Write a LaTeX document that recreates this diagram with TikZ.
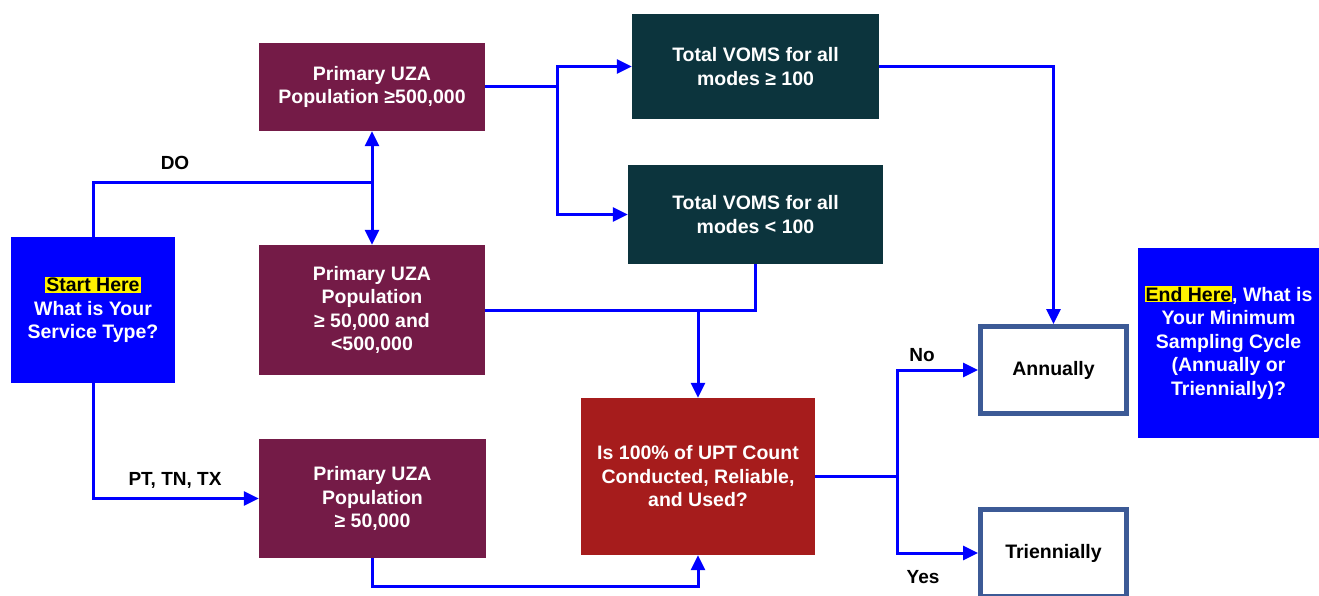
\documentclass[tikz,border=0pt]{standalone}
\usepackage{fontspec}
\setmainfont{Liberation Sans}
\usetikzlibrary{arrows.meta}
\definecolor{maroon}{HTML}{741B47}
\definecolor{teal}{HTML}{0C343D}
\definecolor{qred}{HTML}{A61C1C}
\definecolor{pureblue}{HTML}{0000FF}
\definecolor{outl}{HTML}{3C5A96}
\setlength{\fboxsep}{1pt}
\newcommand{\hl}[1]{\colorbox{yellow}{\color{black}#1}}
\tikzset{
  box/.style={rectangle, align=center, text=white, inner sep=2pt,
    font=\fontsize{19.5}{23.5}\selectfont\bfseries},
  endbox/.style={rectangle, draw=outl, line width=5pt, fill=white, align=center,
    font=\fontsize{19.5}{23.5}\selectfont\bfseries, minimum width=146pt, minimum height=87pt},
  lbl/.style={font=\fontsize{19}{22}\selectfont\bfseries, inner sep=0pt},
  line/.style={draw=pureblue, line width=3pt},
  arr/.style={line, -{Triangle[length=15pt,width=14pt]}}
}
\begin{document}
\begin{tikzpicture}[x=1pt,y=-1pt]
\useasboundingbox (0,0) rectangle (1319,596);
\node[box, fill=pureblue, minimum width=164pt, minimum height=146pt] (start) at (93,310)
  {\hl{Start Here}\\What is Your\\Service Type?};
\node[box, fill=maroon, minimum width=226pt, minimum height=88pt] (uza1) at (372,87)
  {Primary UZA\\Population ≥500,000};
\node[box, fill=maroon, minimum width=226pt, minimum height=130pt] (uza2) at (372,310)
  {Primary UZA\\Population\\≥ 50,000 and\\<500,000};
\node[box, fill=maroon, minimum width=227pt, minimum height=119pt] (uza3) at (372.5,498.5)
  {Primary UZA\\Population\\≥ 50,000};
\node[box, fill=teal, minimum width=247pt, minimum height=105pt] (voms1) at (755.5,66.5)
  {Total VOMS for all\\modes ≥ 100};
\node[box, fill=teal, minimum width=255pt, minimum height=99pt] (voms2) at (755.5,214.5)
  {Total VOMS for all\\modes < 100};
\node[box, fill=qred, minimum width=234pt, minimum height=157pt] (q) at (698,476.5)
  {Is 100\% of UPT Count\\Conducted, Reliable,\\and Used?};
\node[endbox] (ann) at (1053.5,370) {Annually};
\node[endbox] (tri) at (1053.5,553) {Triennially};
\node[box, fill=pureblue, minimum width=181pt, minimum height=190pt] (end) at (1228.5,342.5)
  {\hl{End Here}, What is\\Your Minimum\\Sampling Cycle\\(Annually or\\Triennially)?};

\coordinate (j1) at (372,183);
\coordinate (j2) at (557,87);
\coordinate (j3) at (698,310);
\coordinate (j4) at (372.5,586);
\coordinate (j5) at (897,476.5);

\draw[line] (start.north) |- (j1);
\draw[arr] (j1) -- (uza1.south);
\draw[arr] (j1) -- (uza2.north);
\draw[arr] (start.south) |- (uza3.west);
\draw[line] (uza1.east) -- (j2);
\draw[arr] (j2) |- (voms1.west);
\draw[arr] (j2) |- (voms2.west);
\draw[arr] (voms1.east) -| (ann.north);
\draw[line] (uza2.east) -- (j3);
\draw[line] (voms2.south) |- (j3);
\draw[arr] (j3) -- (q.north);
\draw[arr] (uza3.south) -- (j4) -| (q.south);
\draw[line] (q.east) -- (j5);
\draw[arr] (j5) |- (ann.west);
\draw[arr] (j5) |- (tri.west);

\node[lbl] (ldo) at (175,163) {DO};
\node[lbl] (lpt) at (175,480) {PT, TN, TX};
\node[lbl] (lno) at (922,355) {No};
\node[lbl] (lyes) at (923,577) {Yes};
\end{tikzpicture}
\end{document}
